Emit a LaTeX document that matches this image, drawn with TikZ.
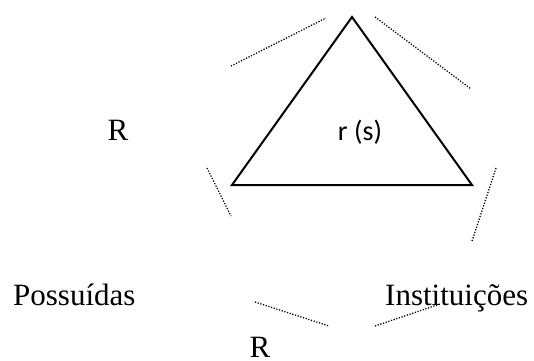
\documentclass[tikz,border=0pt]{standalone}
\usepackage{fontspec}
\setmainfont{Liberation Serif}
\newfontfamily\carlito{Carlito}
\begin{document}
\begin{tikzpicture}[x=1pt,y=-1pt,
  lbl/.style={inner sep=0pt,font=\fontsize{31}{36}\selectfont},
  slbl/.style={inner sep=0pt,font=\carlito\fontsize{28}{32}\selectfont},
  tri/.style={line width=2pt,line join=miter},
  dots/.style={line width=1.3pt,dash pattern=on 1.2pt off 1.6pt}]
\useasboundingbox (0,0) rectangle (534,360);
% triangle
\coordinate (T) at (352,17);
\coordinate (BL) at (232,185);
\coordinate (BR) at (472,185);
\draw[tri] (T) -- (BL) -- (BR) -- cycle;
% labels
\node[lbl,anchor=base] (r1) at (118,140) {R};
\node[slbl,anchor=base] (rs) at (360,140) {r (s)};
\node[lbl,anchor=base west] (pos) at (13,305) {Possuídas};
\node[lbl,anchor=base west] (inst) at (385,305) {Instituições};
\node[lbl,anchor=base] (r2) at (260,357) {R};
% dotted segments
\coordinate (a1) at (231,66);  \coordinate (a2) at (326,18);
\coordinate (b1) at (375,17);  \coordinate (b2) at (471,89);
\coordinate (c1) at (207,168); \coordinate (c2) at (231,216);
\coordinate (d1) at (496,168); \coordinate (d2) at (472,241);
\coordinate (e1) at (255,302); \coordinate (e2) at (329,326);
\coordinate (f1) at (375,326); \coordinate (f2) at (440,304);
\draw[dots] (a1) -- (a2);
\draw[dots] (b1) -- (b2);
\draw[dots] (c1) -- (c2);
\draw[dots] (d1) -- (d2);
\draw[dots] (e1) -- (e2);
\draw[dots] (f1) -- (f2);
\end{tikzpicture}
\end{document}
